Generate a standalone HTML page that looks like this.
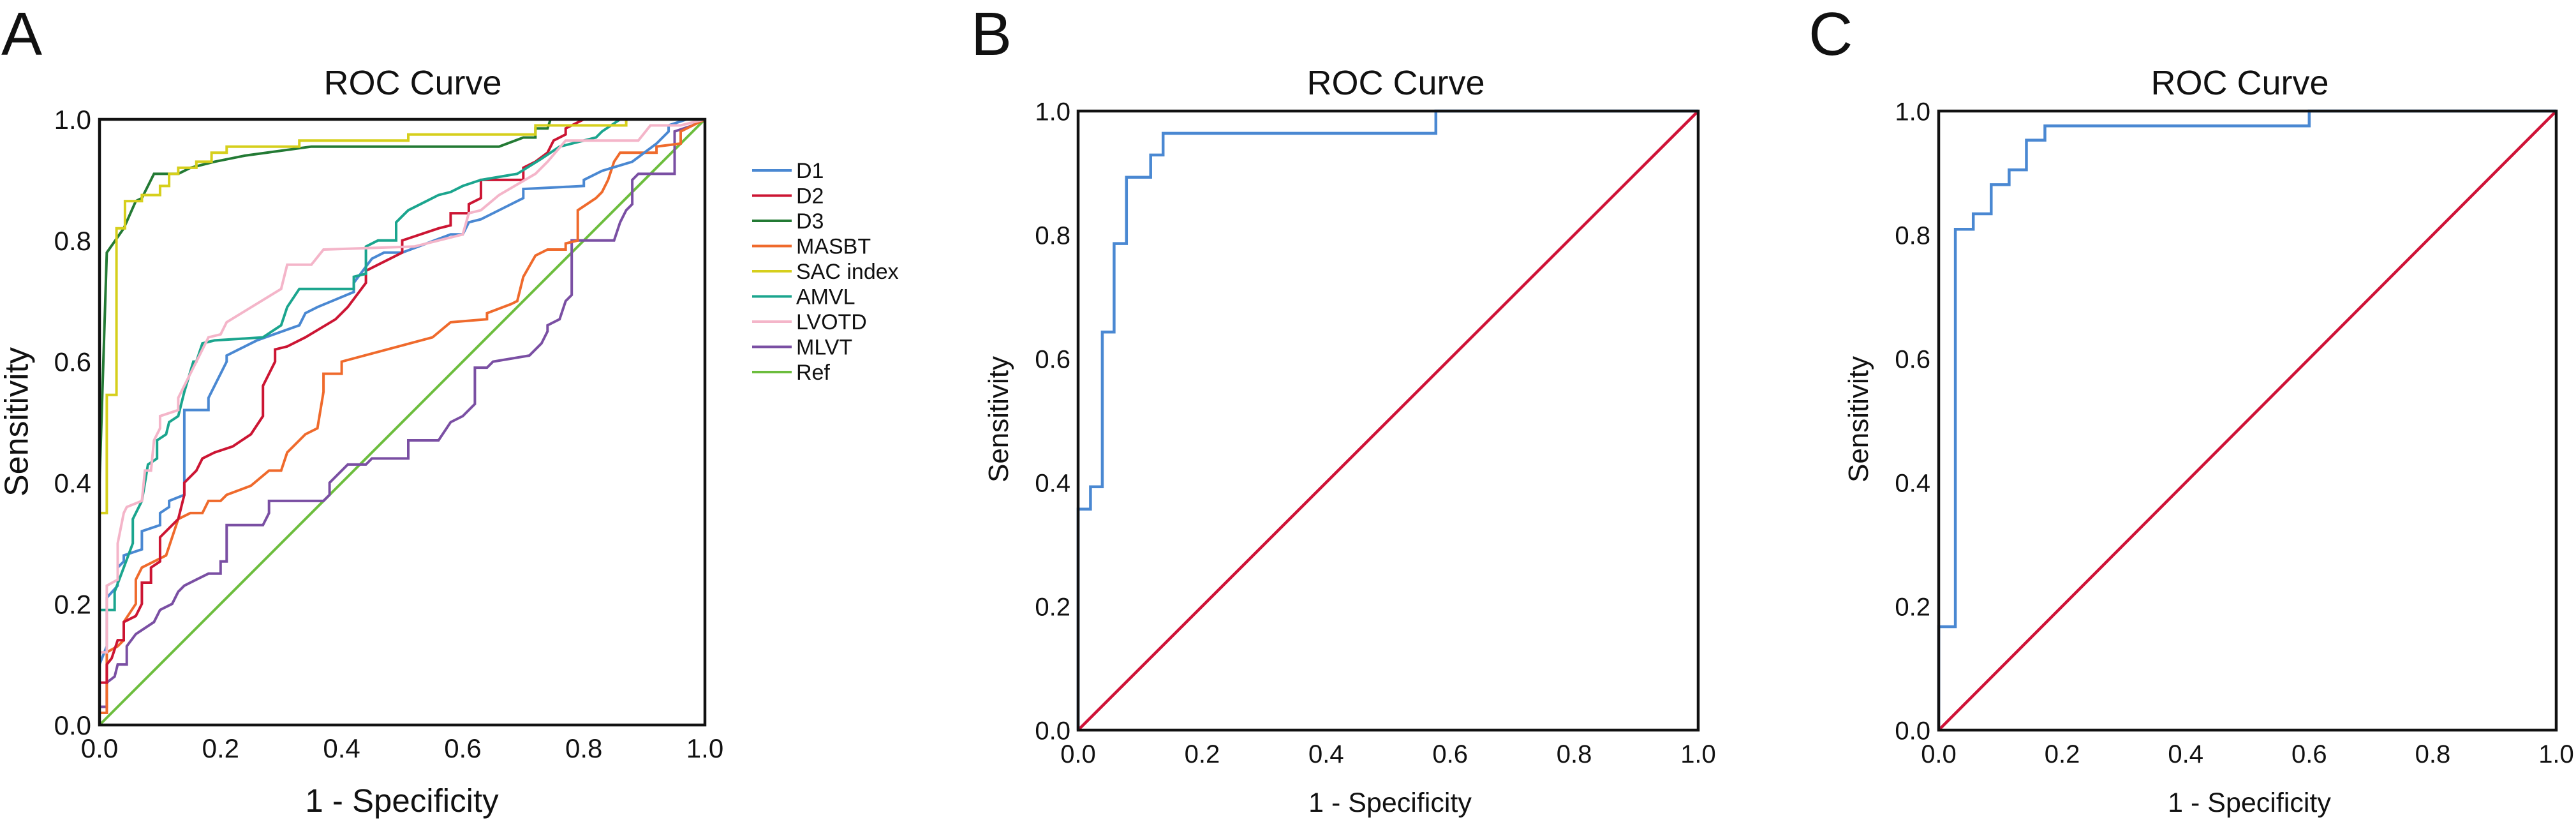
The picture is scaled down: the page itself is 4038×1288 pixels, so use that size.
<!DOCTYPE html>
<html><head><meta charset="utf-8"><style>
html,body{margin:0;padding:0;background:#fff}
svg{display:block}
text{font-family:"Liberation Sans",Arial,sans-serif;fill:#111}
</style></head><body>
<svg id="fig" width="4038" height="1288" viewBox="0 0 4038 1288" xmlns="http://www.w3.org/2000/svg"></svg>
<script>
const tickValues = [0, 0.2, 0.4, 0.6, 0.8, 1.0];
const tickLabels = ["0.0", "0.2", "0.4", "0.6", "0.8", "1.0"];
const seriesNames = ["D1", "D2", "D3", "MASBT", "SAC index", "AMVL", "LVOTD", "MLVT", "Ref"];
const d1Points = [[0,0.1],[0.012,0.13],[0.012,0.21],[0.03,0.23],[0.03,0.26],[0.04,0.27],[0.04,0.28],[0.07,0.29],[0.07,0.32],[0.1,0.33],[0.1,0.35],[0.115,0.36],[0.115,0.37],[0.14,0.38],[0.14,0.52],[0.18,0.52],[0.18,0.54],[0.21,0.6],[0.21,0.61],[0.23,0.62],[0.26,0.635],[0.33,0.66],[0.34,0.68],[0.36,0.69],[0.42,0.715],[0.42,0.73],[0.45,0.77],[0.47,0.78],[0.5,0.78],[0.58,0.81],[0.6,0.81],[0.61,0.83],[0.63,0.835],[0.7,0.87],[0.7,0.885],[0.8,0.89],[0.8,0.9],[0.83,0.915],[0.88,0.93],[0.92,0.96],[0.94,0.98],[0.94,0.99],[0.97,1],[1,1]];
const d2Points = [[0,0.07],[0.012,0.07],[0.012,0.1],[0.02,0.11],[0.03,0.14],[0.04,0.14],[0.04,0.17],[0.06,0.18],[0.07,0.2],[0.07,0.235],[0.085,0.235],[0.085,0.26],[0.1,0.27],[0.1,0.31],[0.13,0.34],[0.14,0.38],[0.14,0.4],[0.16,0.42],[0.17,0.44],[0.19,0.45],[0.22,0.46],[0.25,0.48],[0.27,0.51],[0.27,0.56],[0.29,0.6],[0.29,0.62],[0.31,0.625],[0.34,0.64],[0.39,0.67],[0.41,0.69],[0.44,0.73],[0.44,0.75],[0.46,0.76],[0.48,0.77],[0.5,0.78],[0.5,0.8],[0.56,0.82],[0.58,0.825],[0.58,0.845],[0.61,0.845],[0.61,0.86],[0.63,0.87],[0.63,0.9],[0.7,0.9],[0.7,0.92],[0.72,0.93],[0.74,0.945],[0.75,0.965],[0.77,0.975],[0.77,0.985],[0.8,1],[1,1]];
const d3Points = [[0,0.4],[0.012,0.78],[0.04,0.82],[0.06,0.865],[0.07,0.87],[0.08,0.89],[0.09,0.91],[0.13,0.91],[0.15,0.92],[0.19,0.93],[0.24,0.94],[0.35,0.955],[0.66,0.955],[0.7,0.97],[0.72,0.97],[0.72,0.985],[0.74,0.985],[0.745,1],[1,1]];
const masbtPoints = [[0,0.02],[0.012,0.02],[0.012,0.12],[0.03,0.13],[0.04,0.14],[0.04,0.17],[0.06,0.2],[0.06,0.24],[0.07,0.26],[0.09,0.27],[0.11,0.28],[0.12,0.31],[0.13,0.34],[0.15,0.35],[0.17,0.35],[0.18,0.37],[0.2,0.37],[0.21,0.38],[0.25,0.395],[0.28,0.42],[0.3,0.42],[0.31,0.45],[0.33,0.47],[0.34,0.48],[0.36,0.49],[0.37,0.55],[0.37,0.58],[0.4,0.58],[0.4,0.6],[0.55,0.64],[0.58,0.665],[0.64,0.67],[0.64,0.68],[0.68,0.695],[0.69,0.7],[0.7,0.74],[0.72,0.775],[0.74,0.785],[0.77,0.785],[0.77,0.795],[0.79,0.8],[0.79,0.85],[0.82,0.87],[0.83,0.88],[0.84,0.9],[0.85,0.93],[0.86,0.945],[0.92,0.945],[0.92,0.955],[0.96,0.96],[0.96,0.98],[0.98,0.99],[1,1]];
const sacPoints = [[0,0.35],[0.012,0.35],[0.012,0.545],[0.028,0.545],[0.028,0.82],[0.042,0.82],[0.042,0.865],[0.07,0.865],[0.07,0.875],[0.1,0.875],[0.1,0.89],[0.115,0.89],[0.115,0.91],[0.13,0.91],[0.13,0.92],[0.16,0.92],[0.16,0.93],[0.185,0.93],[0.185,0.945],[0.21,0.945],[0.21,0.955],[0.33,0.955],[0.33,0.965],[0.51,0.965],[0.51,0.975],[0.72,0.975],[0.72,0.99],[0.87,0.99],[0.87,1],[1,1]];
const amvlPoints = [[0,0.19],[0.025,0.19],[0.025,0.22],[0.04,0.26],[0.055,0.3],[0.055,0.34],[0.07,0.37],[0.075,0.4],[0.08,0.43],[0.095,0.44],[0.095,0.47],[0.11,0.48],[0.115,0.5],[0.13,0.51],[0.14,0.55],[0.155,0.6],[0.16,0.6],[0.17,0.63],[0.19,0.635],[0.27,0.64],[0.3,0.66],[0.31,0.69],[0.33,0.72],[0.42,0.72],[0.42,0.74],[0.44,0.745],[0.44,0.79],[0.46,0.8],[0.49,0.8],[0.49,0.83],[0.5,0.84],[0.51,0.85],[0.53,0.86],[0.56,0.875],[0.58,0.88],[0.6,0.89],[0.63,0.9],[0.69,0.91],[0.73,0.935],[0.76,0.955],[0.82,0.97],[0.83,0.98],[0.86,1],[1,1]];
const lvotdPoints = [[0,0.12],[0.012,0.12],[0.012,0.23],[0.03,0.24],[0.03,0.3],[0.04,0.35],[0.045,0.36],[0.07,0.37],[0.075,0.42],[0.085,0.42],[0.09,0.47],[0.1,0.49],[0.1,0.51],[0.13,0.52],[0.13,0.54],[0.17,0.62],[0.18,0.64],[0.2,0.645],[0.21,0.665],[0.3,0.72],[0.31,0.76],[0.35,0.76],[0.37,0.785],[0.52,0.79],[0.6,0.81],[0.61,0.845],[0.63,0.85],[0.66,0.875],[0.72,0.91],[0.74,0.93],[0.77,0.965],[0.89,0.965],[0.91,0.99],[0.96,0.99],[1,1]];
const mlvtPoints = [[0,0.03],[0.012,0.03],[0.012,0.07],[0.025,0.08],[0.03,0.1],[0.045,0.1],[0.045,0.13],[0.06,0.15],[0.09,0.17],[0.1,0.19],[0.12,0.2],[0.13,0.22],[0.14,0.23],[0.16,0.24],[0.18,0.25],[0.2,0.25],[0.2,0.27],[0.21,0.27],[0.21,0.33],[0.27,0.33],[0.28,0.35],[0.28,0.37],[0.37,0.37],[0.38,0.38],[0.38,0.4],[0.4,0.42],[0.41,0.43],[0.44,0.43],[0.45,0.44],[0.51,0.44],[0.51,0.47],[0.56,0.47],[0.58,0.5],[0.6,0.51],[0.62,0.53],[0.62,0.59],[0.64,0.59],[0.65,0.6],[0.71,0.61],[0.73,0.63],[0.74,0.65],[0.74,0.66],[0.76,0.67],[0.77,0.7],[0.78,0.71],[0.78,0.8],[0.85,0.8],[0.86,0.83],[0.87,0.85],[0.88,0.86],[0.88,0.9],[0.89,0.91],[0.95,0.91],[0.95,0.98],[0.98,0.99],[0.99,1],[1,1]];
const refPoints = [[0,0],[1,1]];
const bFpr = [0,0,0.02,0.02,0.039,0.039,0.058,0.058,0.078,0.078,0.117,0.117,0.137,0.137,0.577,0.577,1];
const bTpr = [0,0.357,0.357,0.393,0.393,0.643,0.643,0.786,0.786,0.893,0.893,0.929,0.929,0.964,0.964,1,1];
const cFpr = [0,0,0.027,0.027,0.056,0.056,0.085,0.085,0.114,0.114,0.142,0.142,0.172,0.172,0.6,0.6,1];
const cTpr = [0,0.167,0.167,0.809,0.809,0.834,0.834,0.881,0.881,0.905,0.905,0.953,0.953,0.976,0.976,1,1];

const NS = "http://www.w3.org/2000/svg";
const svg = document.getElementById('fig');
function mk(tag, attrs, parent, txt) {
  const e = document.createElementNS(NS, tag);
  for (const k in attrs) e.setAttribute(k, attrs[k]);
  if (txt !== undefined) e.textContent = txt;
  (parent || svg).appendChild(e);
  return e;
}
function panel(p) {
  const g = mk('g', {});
  
  
  const sx = v => p.x0 + v * (p.x1 - p.x0);
  const sy = v => p.y1 - v * (p.y1 - p.y0);
  const letter = mk('text', {x: p.lx, y: 86, 'font-size': 96}, g, p.letter);
  
  
  const title = mk('text', {x: p.tx, y: 148, 'font-size': 54, 'text-anchor': 'middle'}, g, 'ROC Curve');
  
  
  p.series.forEach(s => {
    const d = s.pts.map((q, i) => (i ? 'L' : 'M') + sx(q[0]).toFixed(1) + ' ' + sy(q[1]).toFixed(1)).join(' ');
    const path = mk('path', {d: d, fill: 'none', stroke: s.color, 'stroke-width': p.lw, 'stroke-linejoin': 'miter'}, g);
    
    
  });
  const box = mk('rect', {x: p.x0, y: p.y0, width: p.x1 - p.x0, height: p.y1 - p.y0, fill: 'none', stroke: '#111', 'stroke-width': 4.5}, g);
  
  
  tickValues.forEach((v, i) => {
    const ty = mk('text', {x: p.ylx, y: sy(v) + p.tf * 0.36, 'font-size': p.tf, 'text-anchor': 'end'}, g, tickLabels[i]);
    
    
    const tx = mk('text', {x: sx(v), y: p.y1 + 51, 'font-size': p.tf, 'text-anchor': 'middle'}, g, tickLabels[i]);
    
    
  });
  const yt = mk('text', {x: 0, y: 0, 'font-size': p.yf, 'text-anchor': 'middle', transform: 'translate(' + (p.yax + p.yf * 0.36) + ',' + p.yay + ') rotate(-90)'}, g, 'Sensitivity');
  
  
  const xt = mk('text', {x: p.xax, y: 1272, 'font-size': p.xf, 'text-anchor': 'middle'}, g, '1 - Specificity');
  
  
}
const colorsA = ['#4a88d2', '#cc1533', '#237a34', '#ef6a2c', '#d6cf1c', '#1ba58e', '#f4b5c9', '#7a4fa3', '#6cbd3d'];
const pointsA = [d1Points, d2Points, d3Points, masbtPoints, sacPoints, amvlPoints, lvotdPoints, mlvtPoints, refPoints];
const drawOrder = [8, 7, 3, 0, 1, 5, 6, 2, 4];
panel({id: 'a', letter: 'A', lx: 2, tx: 647, x0: 156, x1: 1105, y0: 187, y1: 1136, lw: 4, tf: 42, ylx: 143, yf: 52, yax: 25, yay: 661, xf: 51, xax: 630,
  series: drawOrder.map(i => ({name: seriesNames[i], color: colorsA[i], pts: pointsA[i]}))});
panel({id: 'b', letter: 'B', lx: 1522, tx: 2188, x0: 1690, x1: 2662, y0: 174, y1: 1144, lw: 4.5, tf: 40, ylx: 1678, yf: 44, yax: 1564, yay: 657, xf: 43, xax: 2179,
  series: [{name: 'reference', color: '#cf1237', pts: refPoints}, {name: 'roc', color: '#4a88d2', pts: bFpr.map((v, i) => [v, bTpr[i]])}]});
panel({id: 'c', letter: 'C', lx: 2835, tx: 3511, x0: 3039, x1: 4007, y0: 174, y1: 1144, lw: 4.5, tf: 40, ylx: 3026, yf: 44, yax: 2912, yay: 657, xf: 43, xax: 3526,
  series: [{name: 'reference', color: '#cf1237', pts: refPoints}, {name: 'roc', color: '#4a88d2', pts: cFpr.map((v, i) => [v, cTpr[i]])}]});
const lg = mk('g', {});


seriesNames.forEach((n, i) => {
  const y = 267 + i * 39.5;
  const ln = mk('line', {x1: 1179, x2: 1241, y1: y, y2: y, stroke: colorsA[i], 'stroke-width': 4}, lg);
  
  
  const t = mk('text', {x: 1248, y: y + 12, 'font-size': 34}, lg, n);
  
  
});
</script>
</body></html>
